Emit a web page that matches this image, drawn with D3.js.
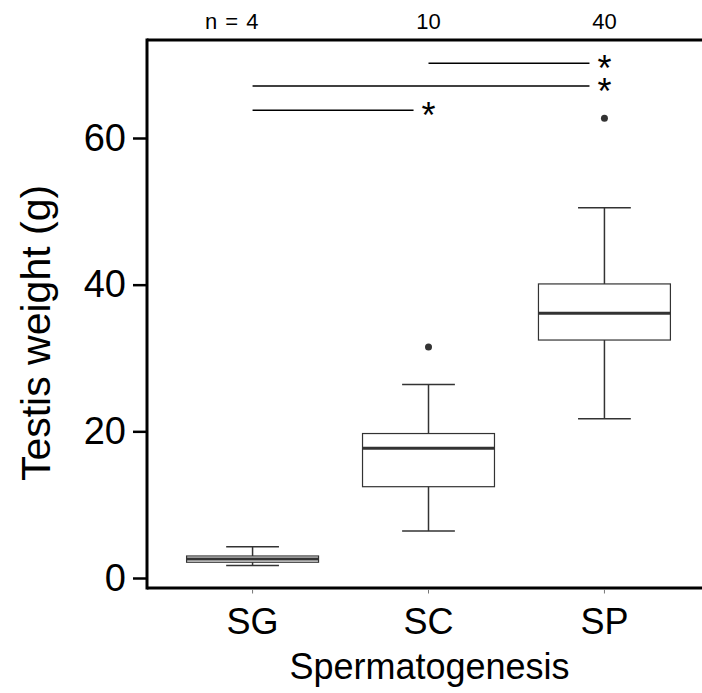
<!DOCTYPE html>
<html>
<head>
  <meta charset="UTF-8">
  <script src="https://d3js.org/d3.v7.min.js"></script>
  <style>
    body { margin: 0; background: white; }
    text { font-family: "Liberation Sans", Arial, sans-serif; }
  </style>
</head>
<body>
  <svg id="chart" width="702" height="693"></svg>
  <script>
    // groups and box statistics
    const groups = ["SG", "SC", "SP"];
    const nLabels = ["n = 4", "10", "40"];
    const lowerWhisker = [1.7, 6.4, 21.7];
    const q1 = [2.15, 12.45, 32.45];
    const median = [2.6, 17.7, 36.1];
    const q3 = [3.0, 19.7, 40.1];
    const upperWhisker = [4.25, 26.4, 50.5];
    const outliers = [[], [31.5], [62.7]];
    const yTicks = [0, 20, 40, 60];

    // significance brackets: from group, to group, level
    const sigFrom = ["SC", "SG", "SG"];
    const sigTo = ["SP", "SP", "SC"];
    const sigLevel = [70.2, 67.1, 63.8];

    const svg = d3.select("svg#chart");

    // panel geometry
    const panelLeft = 147, panelTop = 40, panelBottom = 588, panelRight = 710;

    const x = d3.scaleBand().domain(groups).range([panelLeft, panelRight])
      .paddingInner(0).paddingOuter(0.1);
    const y = d3.scaleLinear().domain([0, 60]).range([578, 138]);

    const cx = g => x(g) + x.bandwidth() / 2;
    const boxW = x.bandwidth() * 0.75;
    const capW = x.bandwidth() * 0.3;

    const data = groups.map((g, i) => ({
      g: g, lo: lowerWhisker[i], q1: q1[i], med: median[i], q3: q3[i],
      hi: upperWhisker[i], out: outliers[i]
    }));

    const plot = svg.append("g");
    const boxColor = "#333333";

    // whiskers
    plot.selectAll("line.whisk").data(data).join("line").attr("class", "whisk")
      .attr("x1", d => cx(d.g)).attr("x2", d => cx(d.g))
      .attr("y1", d => y(d.lo)).attr("y2", d => y(d.hi))
      .attr("stroke", boxColor).attr("stroke-width", 1.5);

    // whisker caps
    ["lo", "hi"].forEach(k => {
      plot.selectAll("line.cap-" + k).data(data).join("line").attr("class", "cap-" + k)
        .attr("x1", d => cx(d.g) - capW / 2).attr("x2", d => cx(d.g) + capW / 2)
        .attr("y1", d => y(d[k])).attr("y2", d => y(d[k]))
        .attr("stroke", boxColor).attr("stroke-width", 1.5);
    });

    // boxes
    plot.selectAll("rect.box").data(data).join("rect").attr("class", "box")
      .attr("x", d => cx(d.g) - boxW / 2)
      .attr("width", boxW)
      .attr("y", d => y(d.q3))
      .attr("height", d => y(d.q1) - y(d.q3))
      .attr("fill", "white")
      .attr("stroke", boxColor).attr("stroke-width", 1.2);

    // medians
    plot.selectAll("line.med").data(data).join("line").attr("class", "med")
      .attr("x1", d => cx(d.g) - boxW / 2).attr("x2", d => cx(d.g) + boxW / 2)
      .attr("y1", d => y(d.med)).attr("y2", d => y(d.med))
      .attr("stroke", boxColor).attr("stroke-width", 3);

    // outliers
    const outPts = data.flatMap(d => d.out.map(v => ({ g: d.g, v: v })));
    plot.selectAll("circle.out").data(outPts).join("circle").attr("class", "out")
      .attr("cx", d => cx(d.g)).attr("cy", d => y(d.v))
      .attr("r", 3.5).attr("fill", boxColor);

    // significance lines and stars
    const sig = sigFrom.map((f, i) => ({ from: f, to: sigTo[i], lvl: sigLevel[i] }));
    plot.selectAll("line.sig").data(sig).join("line").attr("class", "sig")
      .attr("x1", d => cx(d.from)).attr("x2", d => cx(d.to) - 0.085 * x.step())
      .attr("y1", d => y(d.lvl)).attr("y2", d => y(d.lvl))
      .attr("stroke", "black").attr("stroke-width", 1.5);
    plot.selectAll("text.star").data(sig).join("text").attr("class", "star")
      .attr("x", d => cx(d.to)).attr("y", d => y(d.lvl) + 18)
      .attr("text-anchor", "middle").attr("font-size", 36)
      .text("*");

    // frame: left, top, bottom
    const frame = svg.append("g");
    frame.append("line").attr("x1", panelLeft).attr("x2", panelLeft)
      .attr("y1", panelTop - 1.5).attr("y2", panelBottom + 1.5)
      .attr("stroke", "black").attr("stroke-width", 3);
    frame.append("line").attr("x1", panelLeft).attr("x2", 702)
      .attr("y1", panelTop).attr("y2", panelTop)
      .attr("stroke", "black").attr("stroke-width", 3);
    frame.append("line").attr("x1", panelLeft).attr("x2", 702)
      .attr("y1", panelBottom).attr("y2", panelBottom)
      .attr("stroke", "black").attr("stroke-width", 3);

    // y axis ticks and labels
    const yAxis = svg.append("g").attr("transform", `translate(${panelLeft - 1},0)`)
      .call(d3.axisLeft(y).tickValues(yTicks).tickSize(13).tickPadding(7));
    yAxis.select(".domain").remove();
    yAxis.selectAll(".tick line").attr("stroke", "black").attr("stroke-width", 2.5);
    yAxis.selectAll(".tick text").attr("font-size", 38).attr("fill", "black")
      .attr("font-family", "Liberation Sans, Arial, sans-serif");

    // x axis ticks and labels
    const xAxis = svg.append("g").attr("transform", `translate(0,${panelBottom + 1.5})`)
      .call(d3.axisBottom(x).tickSize(4).tickPadding(15));
    xAxis.select(".domain").remove();
    xAxis.selectAll(".tick line").attr("stroke", "#777").attr("stroke-width", 1);
    xAxis.selectAll(".tick text").attr("font-size", 36).attr("fill", "black")
      .attr("font-family", "Liberation Sans, Arial, sans-serif");

    // sample size labels above the panel
    svg.selectAll("text.n").data(groups).join("text").attr("class", "n")
      .attr("x", (g, i) => i === 0 ? cx(g) + 6 : cx(g))
      .attr("y", 29)
      .attr("text-anchor", (g, i) => i === 0 ? "end" : "middle")
      .attr("font-size", 22)
      .attr("word-spacing", 2)
      .text((g, i) => nLabels[i]);

    // axis titles
    svg.append("text")
      .attr("x", (panelLeft + 702) / 2 + 5).attr("y", 679)
      .attr("text-anchor", "middle").attr("font-size", 36)
      .text("Spermatogenesis");

    svg.append("text")
      .attr("transform", "translate(50,333) rotate(-90)")
      .attr("text-anchor", "middle").attr("font-size", 41)
      .text("Testis weight (g)");
  </script>
</body>
</html>
